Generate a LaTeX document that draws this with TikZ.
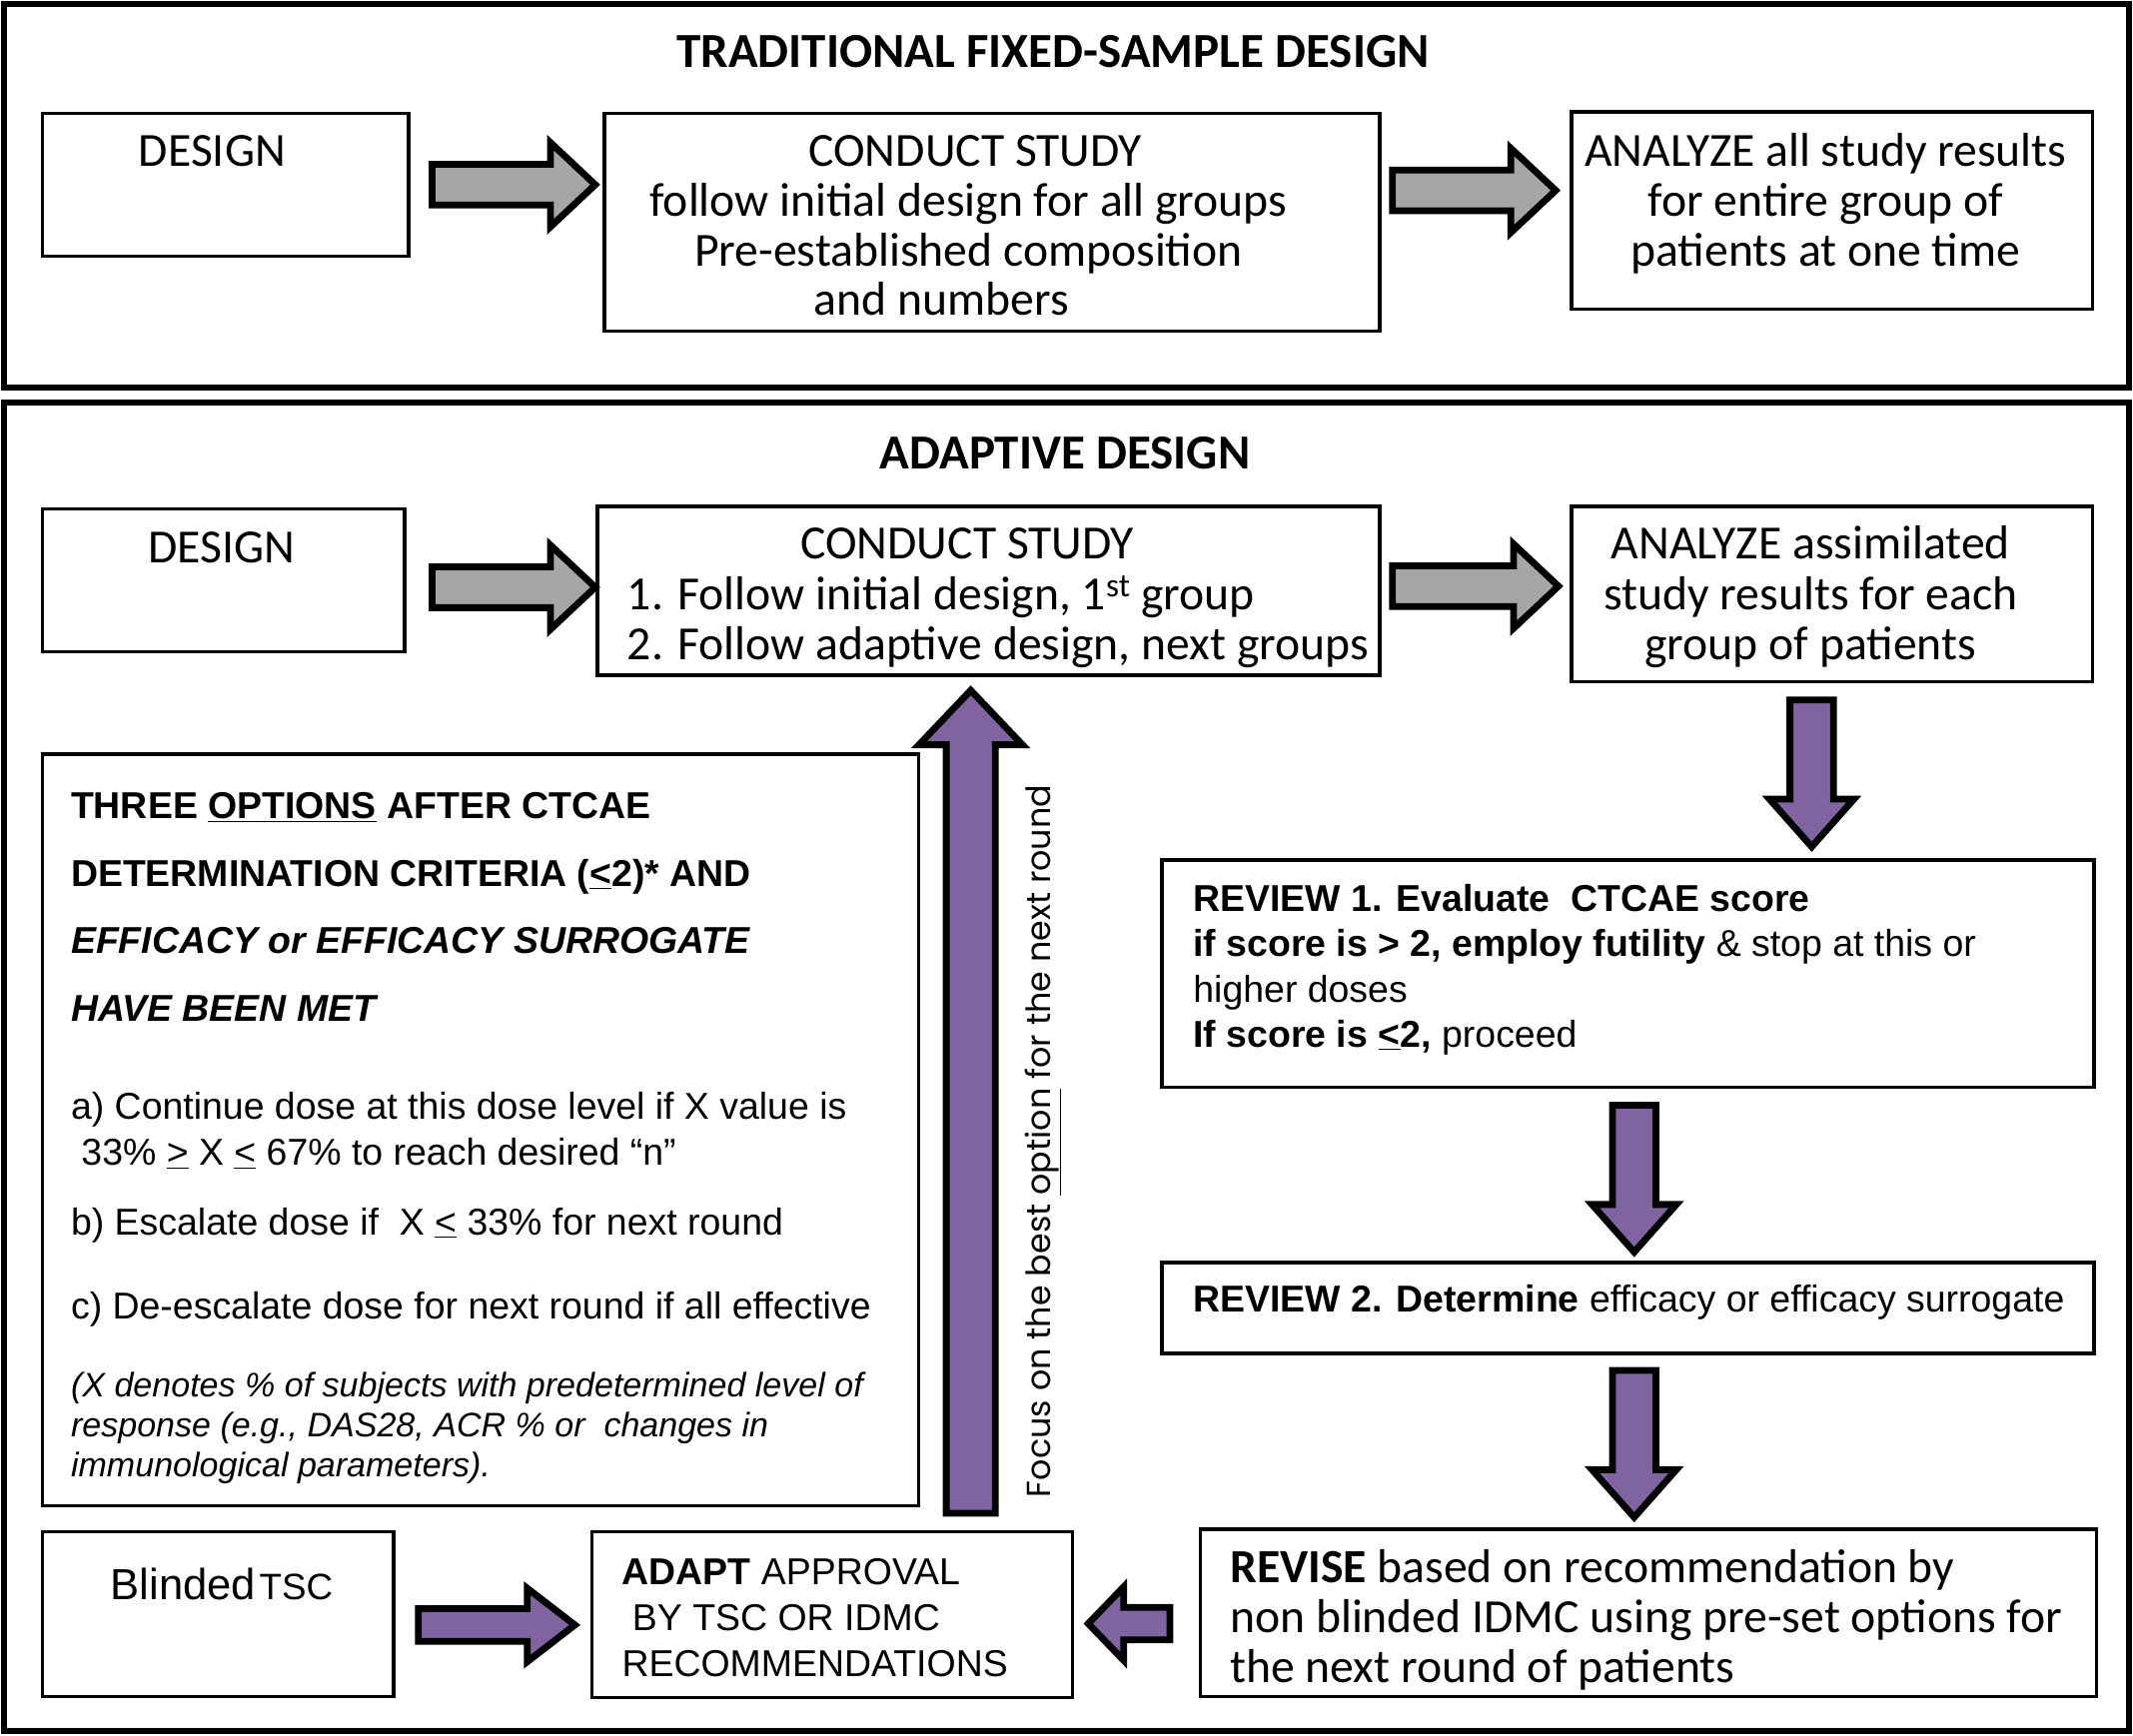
\documentclass[tikz,border=0pt]{standalone}
\usepackage{fontspec}
\setmainfont{Carlito}
\newfontfamily\arialf{Liberation Sans}
\newfontfamily\gothicf{Poppins}
\usetikzlibrary{calc}
\definecolor{arrpurple}{HTML}{8064A2}
\definecolor{arrgrey}{HTML}{A6A6A6}
\newcommand\barrow[7]{% start, angle, length, shaft half, head half, head length, fill
  \draw[arrowline, fill=#7, shift={#1}, rotate=#2]
    (0,-#4) -- ({#3-#6},-#4) -- ({#3-#6},-#5) -- (#3,0) -- ({#3-#6},#5) -- ({#3-#6},#4) -- (0,#4) -- cycle;}
\begin{document}
\begin{tikzpicture}[x=1pt,y=-1pt,
  box/.style={draw, line width=2.6pt, anchor=north west, inner sep=0pt},
  frame/.style={draw, line width=4.5pt},
  arrowline/.style={draw=black, line width=5pt, line join=miter, miter limit=10},
  txt/.style={inner sep=0pt, anchor=base, align=center, font=\fontsize{35}{37}\selectfont},
  txtl/.style={inner sep=0pt, anchor=base west, align=left, font=\fontsize{35}{37}\selectfont},
  ttl/.style={inner sep=0pt, anchor=base, font=\bfseries\fontsize{36}{40}\selectfont},
  ar/.style={inner sep=0pt, anchor=base west, align=left, font=\arialf\fontsize{27.5}{33.3}\selectfont},
]
\useasboundingbox (0,0) rectangle (1568,1276);
% frames
\draw[frame] (3,3) rectangle (1565,285);
\draw[frame] (3,296) rectangle (1565,1273);
\node[ttl] (t1) at (774,49.5) {TRADITIONAL FIXED-SAMPLE DESIGN};
\node[ttl] (t2) at (783,344.5) {ADAPTIVE DESIGN};

% ---- traditional row
\node[box, minimum width=269pt, minimum height=105pt] (d1) at (30,82) {};
\node[txt] at (156,122) {DESIGN};
\node[box, minimum width=570pt, minimum height=160pt] (c1) at (443,82) {};
\node[txt] at (717,122) {CONDUCT STUDY};
\node[txt] at (712,159) {follow initial design for all groups};
\node[txt] at (712,196) {Pre-established composition};
\node[txt] at (692,232) {and numbers};
\node[box, minimum width=383pt, minimum height=145pt] (a1) at (1154,81) {};
\node[txt] at (1342,196) {ANALYZE all study results\\for entire group of\\patients at one time};
\barrow{($(d1.east)+(16,0)$)}{0}{120}{15}{31}{33}{arrgrey}
\barrow{($(c1.north east)+(8,58)$)}{0}{120}{15}{31}{33}{arrgrey}

% ---- adaptive row
\node[box, minimum width=266pt, minimum height=105pt] (d2) at (30,373) {};
\node[txt] at (163,414) {DESIGN};
\node[box, minimum width=575pt, minimum height=124pt] (c2) at (438,371) {};
\node[txt] at (711,411) {CONDUCT STUDY};
\node[txtl] at (461,485) {1. Follow initial design, 1\textsuperscript{st} group\\2. Follow adaptive design, next groups};
\node[box, minimum width=383pt, minimum height=129pt] (a2) at (1154,371) {};
\node[txt] at (1331,485) {ANALYZE assimilated\\study results for each\\group of patients};
\barrow{($(d2.east)+(19,5)$)}{0}{120}{15}{31}{33}{arrgrey}
\barrow{($(c2.north east)+(8,60)$)}{0}{122}{15}{31}{33}{arrgrey}

% ---- review 1
\node[box, minimum width=685pt, minimum height=167pt] (r1) at (853,631) {};
\node[ar] at (877,770) {\textbf{REVIEW 1. Evaluate\ \ CTCAE score}\\
  \textbf{if score is > 2, employ futility} \& stop at this or\\
  higher doses\\
  \textbf{If score is \underline{<}2,} proceed};
\barrow{($(a2.south)+(-15,12)$)}{-90}{108}{16}{31}{35}{arrpurple}

% ---- review 2
\node[box, minimum width=685pt, minimum height=67pt] (r2) at (853,927) {};
\node[ar] at (877,965) {\textbf{REVIEW 2. Determine} efficacy or efficacy surrogate};
\barrow{($(r1.south)+(4.5,12)$)}{-90}{108}{16}{31}{35}{arrpurple}

% ---- revise
\node[box, minimum width=659pt, minimum height=123pt] (rv) at (881,1123) {};
\node[inner sep=0pt, anchor=base west, align=left, font=\fontsize{35}{36.5}\selectfont] at (904,1237)
  {\textbf{REVISE} based on recommendation by\\non blinded IDMC using pre-set options for\\the next round of patients};
\barrow{($(r2.south)+(4.5,11)$)}{-90}{108}{16}{31}{35}{arrpurple}

% ---- adapt
\node[box, minimum width=353pt, minimum height=122pt] (ad) at (434,1125) {};
\node[inner sep=0pt, anchor=base west, align=left, font=\arialf\fontsize{27.5}{34}\selectfont] at (457,1233)
  {\textbf{ADAPT} APPROVAL\\\ BY TSC OR IDMC\\RECOMMENDATIONS};
\barrow{($(rv.west)+(-21,8)$)}{180}{60}{12}{27}{26}{arrpurple}

% ---- blinded TSC
\node[box, minimum width=258pt, minimum height=121pt] (bt) at (30,1125) {};
\node[inner sep=0pt, anchor=base, font=\arialf] at (163,1176) {{\fontsize{32}{34}\selectfont Blinded} {\fontsize{27}{34}\selectfont TSC}};
\barrow{($(bt.east)+(17,8)$)}{0}{115}{12}{27}{35}{arrpurple}

% ---- options
\node[box, minimum width=644pt, minimum height=553pt] (op) at (30,553) {};
\node[inner sep=0pt, anchor=base west, align=left, font=\arialf\bfseries\fontsize{27.5}{49.7}\selectfont] at (52,751)
  {THREE \underline{OPTIONS} AFTER CTCAE\\DETERMINATION CRITERIA (\underline{<}2)* AND\\\textit{EFFICACY or EFFICACY SURROGATE}\\\textit{HAVE BEEN MET}};
\node[inner sep=0pt, anchor=base west, align=left, font=\arialf\fontsize{27.5}{34}\selectfont] at (52,857)
  {a) Continue dose at this dose level if X value is\\\ 33\% \underline{>} X \underline{<} 67\% to reach desired “n”};
\node[ar] at (52,908) {b) Escalate dose if\ \ X \underline{<} 33\% for next round};
\node[ar] at (52,970) {c) De-escalate dose for next round if all effective};
\node[inner sep=0pt, anchor=base west, align=left, font=\arialf\itshape\fontsize{25}{29.5}\selectfont] at (52,1086)
  {(X denotes \% of subjects with predetermined level of\\response (e.g., DAS28, ACR \% or\ \ changes in\\immunological parameters).};

% ---- big up arrow and label
\barrow{($(op.south east)+(37,4)$)}{90}{605}{18}{38}{40}{arrpurple}
\node[inner sep=0pt, anchor=base, rotate=90, font=\gothicf\fontsize{24.5}{28}\selectfont] (fl) at (772,839)
  {Focus on the best \underline{option} for the next round};
\end{tikzpicture}
\end{document}
